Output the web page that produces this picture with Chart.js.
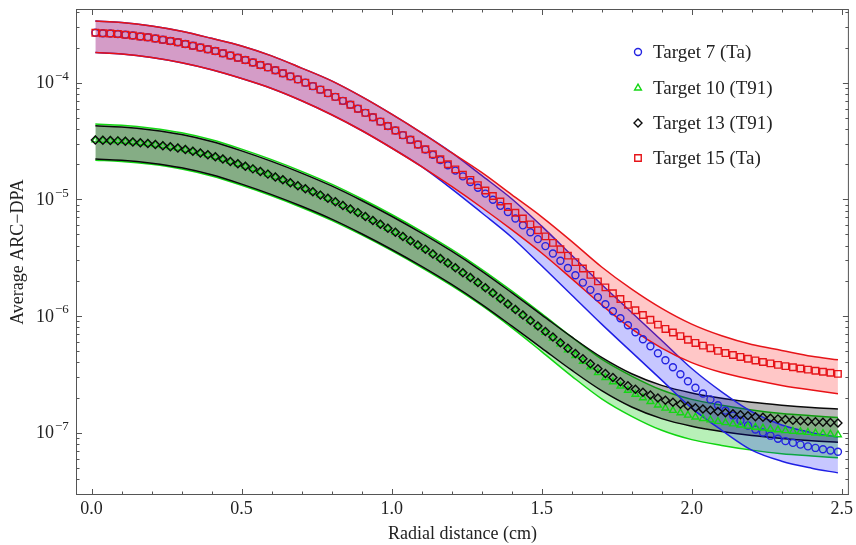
<!DOCTYPE html>
<html>
<head>
<meta charset="utf-8">
<script src="https://cdn.jsdelivr.net/npm/chart.js@4.4.0/dist/chart.umd.min.js"></script>
<style>
  html, body { margin: 0; padding: 0; background: #fff; }
</style>
</head>
<body>
<canvas id="chart" width="856" height="545"></canvas>
<script>
// radial positions of the markers (cm)
const markerX = [
  0.0125,0.0375,0.0625,0.0875,0.1125,0.1375,0.1625,0.1875,0.2125,0.2375,
  0.2625,0.2875,0.3125,0.3375,0.3625,0.3875,0.4125,0.4375,0.4625,0.4875,
  0.5125,0.5375,0.5625,0.5875,0.6125,0.6375,0.6625,0.6875,0.7125,0.7375,
  0.7625,0.7875,0.8125,0.8375,0.8625,0.8875,0.9125,0.9375,0.9625,0.9875,
  1.0125,1.0375,1.0625,1.0875,1.1125,1.1375,1.1625,1.1875,1.2125,1.2375,
  1.2625,1.2875,1.3125,1.3375,1.3625,1.3875,1.4125,1.4375,1.4625,1.4875,
  1.5125,1.5375,1.5625,1.5875,1.6125,1.6375,1.6625,1.6875,1.7125,1.7375,
  1.7625,1.7875,1.8125,1.8375,1.8625,1.8875,1.9125,1.9375,1.9625,1.9875,
  2.0125,2.0375,2.0625,2.0875,2.1125,2.1375,2.1625,2.1875,2.2125,2.2375,
  2.2625,2.2875,2.3125,2.3375,2.3625,2.3875,2.4125,2.4375,2.4625,2.4875
];

// log10 of the average ARC-DPA
const t7Log = [
  -3.572,-3.576,-3.579,-3.583,-3.589,-3.596,-3.604,-3.611,-3.621,-3.632,
  -3.643,-3.654,-3.668,-3.683,-3.698,-3.713,-3.729,-3.748,-3.767,-3.786,
  -3.806,-3.827,-3.848,-3.869,-3.893,-3.919,-3.946,-3.972,-4.000,-4.030,
  -4.060,-4.090,-4.122,-4.156,-4.189,-4.223,-4.259,-4.296,-4.334,-4.371,
  -4.410,-4.450,-4.490,-4.530,-4.574,-4.619,-4.663,-4.708,-4.754,-4.803,
  -4.852,-4.901,-4.951,-5.004,-5.056,-5.109,-5.164,-5.223,-5.282,-5.341,
  -5.401,-5.464,-5.526,-5.589,-5.651,-5.714,-5.776,-5.839,-5.900,-5.960,
  -6.020,-6.080,-6.140,-6.200,-6.260,-6.320,-6.380,-6.440,-6.500,-6.560,
  -6.615,-6.665,-6.715,-6.765,-6.811,-6.854,-6.896,-6.939,-6.973,-6.999,
  -7.026,-7.052,-7.073,-7.088,-7.103,-7.118,-7.131,-7.142,-7.153,-7.164
];
const t10Log = [
  -4.491,-4.494,-4.496,-4.499,-4.503,-4.509,-4.516,-4.522,-4.530,-4.540,
  -4.550,-4.560,-4.573,-4.588,-4.603,-4.618,-4.635,-4.655,-4.675,-4.695,
  -4.716,-4.739,-4.761,-4.784,-4.808,-4.833,-4.858,-4.883,-4.909,-4.936,
  -4.964,-4.991,-5.021,-5.052,-5.083,-5.114,-5.147,-5.181,-5.214,-5.248,
  -5.283,-5.319,-5.356,-5.392,-5.429,-5.468,-5.507,-5.546,-5.586,-5.629,
  -5.671,-5.714,-5.758,-5.804,-5.851,-5.897,-5.944,-5.993,-6.042,-6.091,
  -6.140,-6.190,-6.240,-6.290,-6.339,-6.388,-6.437,-6.486,-6.528,-6.564,
  -6.601,-6.637,-6.671,-6.702,-6.733,-6.764,-6.790,-6.810,-6.830,-6.850,
  -6.866,-6.879,-6.891,-6.904,-6.915,-6.925,-6.935,-6.945,-6.954,-6.961,
  -6.969,-6.976,-6.983,-6.988,-6.993,-6.998,-7.003,-7.008,-7.013,-7.018
];
const t13Log = [
  -4.491,-4.494,-4.496,-4.499,-4.503,-4.509,-4.516,-4.522,-4.530,-4.540,
  -4.550,-4.560,-4.573,-4.588,-4.603,-4.618,-4.635,-4.655,-4.675,-4.695,
  -4.716,-4.739,-4.761,-4.784,-4.808,-4.833,-4.858,-4.883,-4.909,-4.936,
  -4.964,-4.991,-5.021,-5.052,-5.083,-5.114,-5.147,-5.181,-5.214,-5.248,
  -5.283,-5.319,-5.356,-5.392,-5.429,-5.468,-5.507,-5.546,-5.586,-5.629,
  -5.671,-5.714,-5.758,-5.804,-5.851,-5.897,-5.944,-5.991,-6.039,-6.086,
  -6.134,-6.181,-6.229,-6.276,-6.322,-6.366,-6.409,-6.453,-6.493,-6.528,
  -6.563,-6.598,-6.628,-6.653,-6.678,-6.703,-6.723,-6.739,-6.756,-6.772,
  -6.786,-6.797,-6.808,-6.819,-6.829,-6.838,-6.847,-6.856,-6.863,-6.869,
  -6.876,-6.882,-6.888,-6.893,-6.898,-6.903,-6.907,-6.911,-6.914,-6.918
];
const t15Log = [
  -3.572,-3.576,-3.579,-3.583,-3.589,-3.596,-3.604,-3.611,-3.621,-3.632,
  -3.643,-3.654,-3.668,-3.683,-3.698,-3.713,-3.729,-3.748,-3.767,-3.786,
  -3.806,-3.827,-3.848,-3.869,-3.893,-3.919,-3.946,-3.972,-4.000,-4.030,
  -4.060,-4.090,-4.122,-4.156,-4.189,-4.223,-4.259,-4.296,-4.334,-4.371,
  -4.410,-4.450,-4.490,-4.530,-4.571,-4.614,-4.656,-4.699,-4.743,-4.788,
  -4.833,-4.878,-4.924,-4.971,-5.019,-5.066,-5.115,-5.165,-5.215,-5.265,
  -5.318,-5.373,-5.428,-5.483,-5.538,-5.593,-5.648,-5.703,-5.755,-5.805,
  -5.855,-5.905,-5.951,-5.992,-6.033,-6.074,-6.111,-6.142,-6.173,-6.204,
  -6.231,-6.254,-6.276,-6.299,-6.318,-6.334,-6.351,-6.367,-6.381,-6.394,
  -6.406,-6.419,-6.430,-6.440,-6.450,-6.460,-6.469,-6.478,-6.487,-6.496
];

// uncertainty bands (log10), upper and lower edge
const bandX = [0.0125,0.1,0.2,0.3,0.4,0.5,0.6,0.7,0.8,0.9,1.0,1.1,1.2,1.3,1.4,1.5,1.6,1.7,1.8,1.9,2.0,2.1,2.2,2.3,2.4,2.4875];
const t7Hi = [-3.472,-3.485,-3.515,-3.560,-3.620,-3.685,-3.770,-3.875,-3.985,-4.120,-4.270,-4.430,-4.600,-4.795,-4.995,-5.230,-5.480,-5.730,-5.970,-6.210,-6.450,-6.650,-6.820,-6.935,-7.000,-7.040];
const t7Lo = [-3.742,-3.755,-3.785,-3.830,-3.890,-3.965,-4.050,-4.155,-4.275,-4.410,-4.560,-4.720,-4.910,-5.115,-5.325,-5.570,-5.820,-6.070,-6.310,-6.550,-6.790,-6.980,-7.150,-7.245,-7.305,-7.345];
const t10Hi = [-4.355,-4.365,-4.390,-4.430,-4.490,-4.570,-4.660,-4.760,-4.870,-4.995,-5.130,-5.275,-5.430,-5.600,-5.785,-5.980,-6.180,-6.370,-6.515,-6.635,-6.715,-6.765,-6.805,-6.835,-6.855,-6.870];
const t10Lo = [-4.665,-4.675,-4.700,-4.740,-4.800,-4.880,-4.970,-5.070,-5.180,-5.305,-5.440,-5.585,-5.740,-5.910,-6.100,-6.305,-6.515,-6.710,-6.860,-6.980,-7.060,-7.110,-7.150,-7.180,-7.200,-7.215];
const t13Hi = [-4.370,-4.380,-4.405,-4.445,-4.505,-4.585,-4.675,-4.775,-4.885,-5.010,-5.145,-5.290,-5.445,-5.615,-5.800,-5.990,-6.180,-6.355,-6.495,-6.595,-6.660,-6.705,-6.740,-6.765,-6.785,-6.798];
const t13Lo = [-4.655,-4.665,-4.690,-4.730,-4.790,-4.870,-4.960,-5.060,-5.170,-5.295,-5.430,-5.575,-5.730,-5.900,-6.085,-6.275,-6.465,-6.640,-6.780,-6.880,-6.945,-6.990,-7.025,-7.050,-7.070,-7.083];
const t15Hi = [-3.472,-3.485,-3.515,-3.560,-3.620,-3.685,-3.770,-3.875,-3.985,-4.120,-4.270,-4.430,-4.600,-4.770,-4.960,-5.150,-5.360,-5.580,-5.770,-5.935,-6.070,-6.170,-6.245,-6.295,-6.345,-6.376];
const t15Lo = [-3.742,-3.755,-3.785,-3.830,-3.890,-3.965,-4.050,-4.155,-4.275,-4.410,-4.560,-4.720,-4.890,-5.070,-5.260,-5.460,-5.680,-5.905,-6.110,-6.275,-6.400,-6.485,-6.545,-6.595,-6.635,-6.666];

const seriesLabels = ['Target 7 (Ta)', 'Target 10 (T91)', 'Target 13 (T91)', 'Target 15 (Ta)'];
const xTicks = [0, 0.5, 1.0, 1.5, 2.0, 2.5];
const xTickLabels = ['0.0', '0.5', '1.0', '1.5', '2.0', '2.5'];
const yTickExps = [-7, -6, -5, -4];

const FONT = '"Liberation Serif", "Times New Roman", serif';

function pts(xs, logs) {
  return xs.map((x, i) => ({ x: x, y: Math.pow(10, logs[i]) }));
}

function markerSet(label, logs, style, color, radius, order) {
  return {
    type: 'scatter', label: label, data: pts(markerX, logs), order: order,
    pointStyle: style, pointRadius: radius, pointBorderWidth: 1.4,
    borderColor: color, pointBorderColor: color, backgroundColor: 'rgba(0,0,0,0)',
    pointBackgroundColor: 'rgba(0,0,0,0)', showLine: false
  };
}

function bandSet(logs, color, fillColor, order) {
  return {
    type: 'line', data: pts(bandX, logs), order: order, showLine: true,
    borderColor: color, borderWidth: 1.5, pointRadius: 0,
    cubicInterpolationMode: 'monotone',
    backgroundColor: fillColor, fill: fillColor ? '+1' : false
  };
}

const blue = 'rgb(35,35,225)', green = 'rgb(20,215,20)', black = 'rgb(10,10,10)', red = 'rgb(230,20,25)';

const datasets = [
  markerSet(seriesLabels[3], t15Log, 'rect', red, 4.6, 0),
  markerSet(seriesLabels[2], t13Log, 'rectRot', black, 4.0, 1),
  markerSet(seriesLabels[1], t10Log, 'triangle', green, 3.9, 2),
  markerSet(seriesLabels[0], t7Log, 'circle', blue, 3.5, 3),
  bandSet(t15Hi, red, 'rgba(255,0,0,0.22)', 4),
  bandSet(t15Lo, red, null, 5),
  bandSet(t7Hi, blue, 'rgba(0,0,255,0.22)', 6),
  bandSet(t7Lo, blue, null, 7),
  bandSet(t13Hi, black, 'rgba(0,0,0,0.28)', 8),
  bandSet(t13Lo, black, null, 9),
  bandSet(t10Hi, green, 'rgba(0,200,0,0.28)', 10),
  bandSet(t10Lo, green, null, 11)
];

function drawMarker(ctx, style, x, y, r) {
  ctx.beginPath();
  if (style === 'circle') {
    ctx.arc(x, y, r, 0, Math.PI * 2);
  } else if (style === 'rect') {
    const s = r * Math.SQRT1_2;
    ctx.rect(x - s, y - s, 2 * s, 2 * s);
  } else if (style === 'rectRot') {
    ctx.moveTo(x, y - r); ctx.lineTo(x + r, y); ctx.lineTo(x, y + r); ctx.lineTo(x - r, y); ctx.closePath();
  } else if (style === 'triangle') {
    const h = r * 1.5, s = r * Math.sqrt(3);
    ctx.moveTo(x, y - r); ctx.lineTo(x + s / 2, y + h - r); ctx.lineTo(x - s / 2, y + h - r); ctx.closePath();
  }
  ctx.stroke();
}

// frame with inward ticks, y labels with exponents, legend
const framePlugin = {
  id: 'frame',
  afterDraw(chart) {
    const ctx = chart.ctx, a = chart.chartArea;
    const xs = chart.scales.x, ys = chart.scales.y;
    ctx.save();
    ctx.strokeStyle = '#555';
    ctx.lineWidth = 1;
    ctx.strokeRect(a.left + 0.5, a.top + 0.5, a.right - a.left - 1, a.bottom - a.top - 1);

    ctx.beginPath();
    for (let k = 0; k <= 25; k++) {
      const v = k / 10;
      const px = Math.round(xs.getPixelForValue(v)) + 0.5;
      const len = (k % 5 === 0) ? 6 : 3.5;
      ctx.moveTo(px, a.bottom); ctx.lineTo(px, a.bottom - len);
      ctx.moveTo(px, a.top); ctx.lineTo(px, a.top + len);
    }
    for (let e = -8; e <= -4; e++) {
      for (let m = 1; m <= 9; m++) {
        const v = m * Math.pow(10, e);
        if (v < ys.min || v > ys.max) continue;
        const py = Math.round(ys.getPixelForValue(v)) + 0.5;
        const len = (m === 1) ? 6 : 3.5;
        ctx.moveTo(a.left, py); ctx.lineTo(a.left + len, py);
        ctx.moveTo(a.right, py); ctx.lineTo(a.right - len, py);
      }
    }
    ctx.stroke();

    ctx.fillStyle = '#222';
    yTickExps.forEach(e => {
      const py = ys.getPixelForValue(Math.pow(10, e));
      ctx.font = '18px ' + FONT;
      ctx.textAlign = 'right';
      ctx.textBaseline = 'middle';
      ctx.fillText('10', 54, py + 1);
      ctx.font = '13px ' + FONT;
      ctx.textAlign = 'left';
      ctx.fillText('\u2212' + Math.abs(e), 55, py - 6);
    });

    const rows = [52, 88, 123, 158];
    const legendMeta = [3, 2, 1, 0];
    rows.forEach((ry, i) => {
      const ds = chart.data.datasets[legendMeta[i]];
      ctx.strokeStyle = ds.pointBorderColor;
      ctx.lineWidth = 1.4;
      drawMarker(ctx, ds.pointStyle, 638, ry, ds.pointRadius);
      ctx.fillStyle = '#222';
      ctx.font = '19px ' + FONT;
      ctx.textAlign = 'left';
      ctx.textBaseline = 'middle';
      ctx.fillText(ds.label, 653, ry + 1);
    });
    ctx.restore();
  }
};

new Chart(document.getElementById('chart'), {
  type: 'scatter',
  data: { datasets: datasets },
  options: {
    responsive: false,
    animation: false,
    devicePixelRatio: 1,
    layout: { padding: { top: 9, right: 3, left: 0, bottom: 0 } },
    plugins: { legend: { display: false }, tooltip: { enabled: false } },
    scales: {
      x: {
        type: 'linear', min: -0.052, max: 2.524,
        grid: { display: false, drawTicks: false, tickLength: 0 }, border: { display: false },
        afterBuildTicks: s => { s.ticks = xTicks.map(v => ({ value: v })); },
        afterFit: s => { s.height = 50; },
        ticks: {
          color: '#222', padding: 3, maxRotation: 0,
          font: { family: FONT, size: 18 },
          callback: (v, i) => xTickLabels[i]
        },
        title: {
          display: true, text: 'Radial distance (cm)', color: '#222',
          font: { family: FONT, size: 18 }, padding: { top: 6, bottom: 0 }
        }
      },
      y: {
        type: 'logarithmic', min: 2.92e-8, max: 4.28e-4,
        grid: { display: false }, border: { display: false },
        ticks: { display: false },
        afterFit: s => { s.width = 76; },
        title: {
          display: true, text: 'Average ARC\u2212DPA', color: '#222',
          font: { family: FONT, size: 18 }, padding: { top: 7, bottom: 0 }
        }
      }
    }
  },
  plugins: [framePlugin]
});
</script>
</body>
</html>
